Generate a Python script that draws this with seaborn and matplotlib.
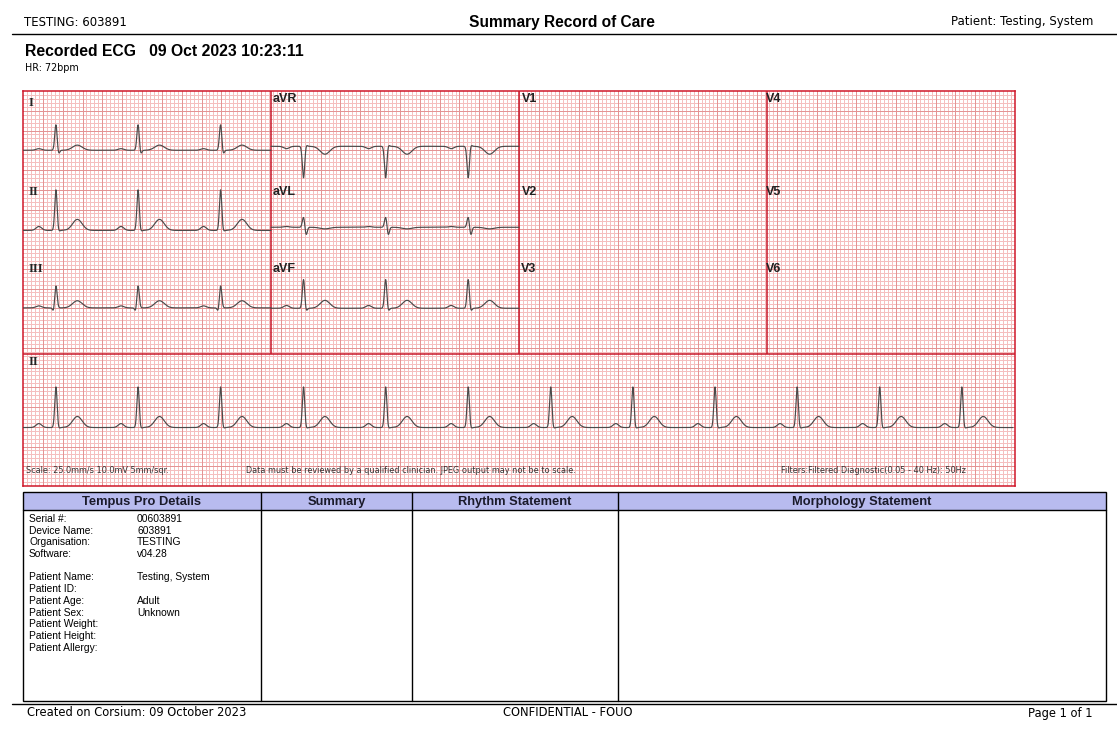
import numpy as np
import pandas as pd
import matplotlib
matplotlib.use("Agg")
import matplotlib.pyplot as plt
import seaborn as sns

# ECG paper is 250 mm x 100 mm (25 mm/s, 10 s)
lead_names = ["I", "II", "III", "aVR", "aVL", "aVF", "II_rhythm"]
lead_start = [0, 0, 0, 62.5, 62.5, 62.5, 0]          # mm
lead_end = [62.5, 62.5, 62.5, 125, 125, 125, 249.5]  # mm
lead_base = [15.0, 35.3, 54.9, 14.0, 34.5, 55.0, 85.2]  # mm from top
# wave amplitudes in mm (P, Q, R, S, T)
amp_p = [0.4, 1.0, 0.5, -0.6, 0.2, 0.7, 1.0]
amp_q = [0.0, 0.0, -1.0, 0.0, 0.0, 0.0, 0.0]
amp_r = [6.5, 10.3, 5.6, -8.0, 2.6, 7.3, 10.3]
amp_s = [-1.0, -0.3, 0.0, 0.4, -2.0, -0.8, -0.3]
amp_t = [1.3, 2.8, 1.8, -2.0, -0.4, 2.0, 2.8]
# R peak positions along the strip (mm)
r_peaks = [8.3, 29.0, 49.8, 70.7, 91.4, 112.2, 133.0, 153.7, 174.4, 195.1, 215.9, 236.6]

label_text = ["I", "II", "III", "aVR", "aVL", "aVF", "II", "V1", "V2", "V3", "V4", "V5", "V6"]
label_x = [1.3, 1.3, 1.3, 62.9, 62.9, 62.9, 1.3, 125.8, 125.8, 125.4, 187.3, 187.3, 187.3]
label_y = [1.4, 24.0, 43.6, 0.6, 24.0, 43.6, 67.0, 0.6, 24.0, 43.6, 0.6, 24.0, 43.6]

# details table
detail_labels = ["Serial #:", "Device Name:", "Organisation:", "Software:", "",
                 "Patient Name:", "Patient ID:", "Patient Age:", "Patient Sex:",
                 "Patient Weight:", "Patient Height:", "Patient Allergy:"]
detail_values = ["00603891", "603891", "TESTING", "v04.28", "",
                 "Testing, System", "", "Adult", "Unknown", "", "", ""]
col_titles = ["Tempus Pro Details", "Summary", "Rhythm Statement", "Morphology Statement"]
col_edges = [23, 261, 412, 618, 1106]


def bump(d, c, w):
    return np.exp(-0.5 * ((d - c) / w) ** 2)


rows = []
for i, name in enumerate(lead_names):
    t = np.arange(lead_start[i], lead_end[i] + 0.001, 0.05)
    v = np.zeros_like(t)
    for rp in r_peaks:
        d = t - rp
        v += (amp_p[i] * bump(d, -4.3, 0.7) + amp_q[i] * bump(d, -0.6, 0.25)
              + amp_r[i] * bump(d, 0.0, 0.3) + amp_s[i] * bump(d, 0.65, 0.28)
              + amp_t[i] * bump(d, 5.4, 1.2))
    rows.append(pd.DataFrame({"t": t, "y": lead_base[i] - v, "lead": name}))
ecg = pd.concat(rows, ignore_index=True)

sns.set_style("white")
plt.rcParams["font.family"] = ["DejaVu Sans"]
plt.rcParams["text.color"] = "black"

W, H = 1117, 739
fig = plt.figure(figsize=(W / 100, H / 100), dpi=100)

# page overlay in pixel coordinates
page = fig.add_axes([0, 0, 1, 1])
page.set_xlim(0, W)
page.set_ylim(H, 0)
page.axis("off")

page.text(24, 22, "TESTING: 603891", fontsize=8.5, va="center", ha="left")
page.text(562, 22, "Summary Record of Care", fontsize=11.2, fontweight="bold",
          family="Liberation Sans", va="center", ha="center")
page.text(1093, 22, "Patient: Testing, System", fontsize=8.5, va="center", ha="right")
page.plot([12, 1117], [33.5, 33.5], color="black", lw=1)
page.text(25, 51, "Recorded ECG   09 Oct 2023 10:23:11", fontsize=11.3, fontweight="bold",
          family="Liberation Sans", va="center", ha="left")
page.text(25, 68, "HR: 72bpm", fontsize=6.9, va="center", ha="left")

# table
page.add_patch(plt.Rectangle((23, 492), 1083, 18, facecolor="#b8bbef", edgecolor="none"))
page.add_patch(plt.Rectangle((23, 492), 1083, 209, facecolor="none", edgecolor="black", lw=1))
page.plot([23, 1106], [510, 510], color="black", lw=1)
for xe in col_edges[1:-1]:
    page.plot([xe, xe], [492, 701], color="black", lw=1)
for k, title in enumerate(col_titles):
    page.text((col_edges[k] + col_edges[k + 1]) / 2, 502, title, fontsize=9.3,
              fontweight="bold", family="Liberation Sans", ha="center", va="center",
              color="#1a1a2a")
y0 = 519
for k, (lab, val) in enumerate(zip(detail_labels, detail_values)):
    yy = y0 + k * 11.7
    page.text(29, yy, lab, fontsize=7.4, family="Liberation Sans", va="center", ha="left")
    page.text(137, yy, val, fontsize=7.4, family="Liberation Sans", va="center", ha="left")

page.plot([12, 1117], [703.5, 703.5], color="black", lw=1)
page.text(27, 713, "Created on Corsium: 09 October 2023", fontsize=8.3, va="center", ha="left")
page.text(568, 713, "CONFIDENTIAL - FOUO", fontsize=8.3, va="center", ha="center")
page.text(1093, 713, "Page 1 of 1", fontsize=8.3, va="center", ha="right")

# ECG paper
ax = fig.add_axes([23 / W, 1 - 486 / H, 992 / W, 395 / H])
ax.set_xlim(0, 250)
ax.set_ylim(100, 0)
minor_x = [x for x in range(1, 250) if x % 5]
minor_y = [y for y in range(1, 100) if y % 5]
ax.vlines(minor_x, 0, 100, color="#f5bfbf", lw=0.72, zorder=0, antialiased=False)
ax.hlines(minor_y, 0, 250, color="#f5bfbf", lw=0.72, zorder=0, antialiased=False)
ax.vlines(range(5, 250, 5), 0, 100, color="#e49494", lw=0.72, zorder=0.5, antialiased=False)
ax.hlines(range(5, 100, 5), 0, 250, color="#e49494", lw=0.72, zorder=0.5, antialiased=False)
sns.lineplot(data=ecg, x="t", y="y", units="lead", estimator=None, color="#4a4a4a",
             lw=0.85, ax=ax, legend=False, sort=False, zorder=3)
ax.set_xlim(0, 250)
ax.set_ylim(100, 0)
ax.set_xticks([])
ax.set_yticks([])
ax.grid(False)
ax.set_xlabel("")
ax.set_ylabel("")
for sp in ax.spines.values():
    sp.set_color("#d0182a")
    sp.set_linewidth(1.1)
ax.vlines([62.5, 125, 187.5], 0, 66.5, color="#c8182a", lw=1.1, zorder=2)
ax.hlines(66.5, 0, 250, color="#c8182a", lw=1.1, zorder=2)

for txt, lx, ly in zip(label_text, label_x, label_y):
    if txt in ("I", "II", "III"):
        ax.text(lx, ly, txt, fontsize=9, fontweight="bold", family="Liberation Serif",
                va="top", ha="left", color="#222222", zorder=4)
    else:
        ax.text(lx, ly, txt, fontsize=9, fontweight="bold", family="Liberation Sans",
                va="top", ha="left", color="#222222", zorder=4)

ax.text(0.8, 96, "Scale: 25.0mm/s 10.0mV 5mm/sqr.", fontsize=5.9, va="center", ha="left",
        color="#333333", zorder=4)
ax.text(56.2, 96, "Data must be reviewed by a qualified clinician. JPEG output may not be to scale.",
        fontsize=5.9, va="center", ha="left", color="#333333", zorder=4)
ax.text(191, 96, "Filters:Filtered Diagnostic(0.05 - 40 Hz): 50Hz", fontsize=5.9,
        va="center", ha="left", color="#333333", zorder=4)

fig.savefig("out.png", dpi=100)
